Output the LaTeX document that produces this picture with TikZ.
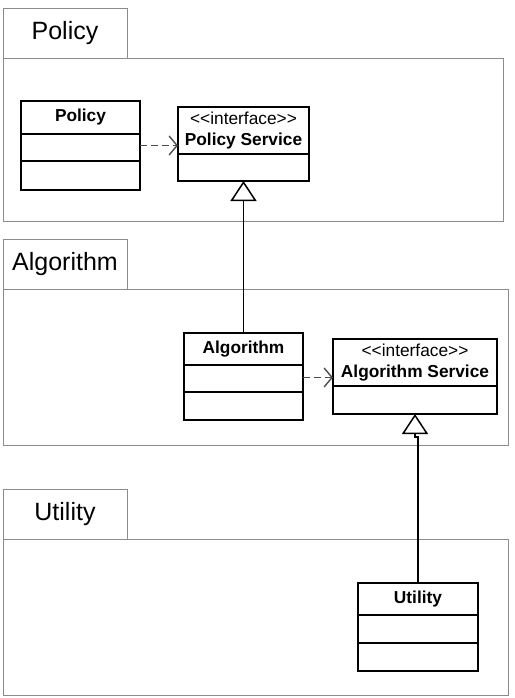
\documentclass[tikz,border=0pt]{standalone}
\usepackage{fontspec}
\setmainfont{Liberation Sans}
\usetikzlibrary{arrows.meta, positioning}
\newcommand{\stereo}[1]{<\kern0pt<#1>\kern0pt>}
\tikzset{
    pkgtab/.style={draw=black!45, line width=0.9pt, inner sep=0pt, outer sep=0pt, minimum width=124pt, minimum height=50pt, font=\fontsize{25}{30}\selectfont},
    pkgbody/.style={draw=black!45, line width=0.9pt, inner sep=0pt, outer sep=0pt, anchor=north west},
    classhead/.style={draw, line width=1.5pt, inner sep=0pt, outer sep=0pt, anchor=north, align=center, font=\fontsize{17.3}{21}\selectfont},
    classpart/.style={draw, line width=1.5pt, inner sep=0pt, outer sep=0pt, anchor=north},
    extends/.style={line width=1.5pt, -{Triangle[open, length=20pt, width=26pt]}},
    depend/.style={black!70, line width=1.4pt, dash pattern=on 7pt off 4pt, -{Straight Barb[length=8pt, width=19pt]}}
}
\begin{document}
\begin{tikzpicture}[x=1pt, y=-1pt]
    \useasboundingbox (0,0) rectangle (514,698);
    \node[pkgtab] (policytab) at (65,33) {Policy};
    \node[pkgbody, minimum width=500pt, minimum height=163pt] (policypkg) at (policytab.south west) {};
    \node[pkgtab] (algotab) at (65,264) {Algorithm};
    \node[pkgbody, minimum width=505pt, minimum height=156pt] (algopkg) at (algotab.south west) {};
    \node[pkgtab] (utiltab) at (65,514) {Utility};
    \node[pkgbody, minimum width=505pt, minimum height=156pt] (utilpkg) at (utiltab.south west) {};
    \node[classhead, minimum width=119pt, minimum height=33pt] (policy) at (80.5,101) {\bfseries Policy};
    \node[classpart, minimum width=119pt, minimum height=27pt] (policyattr) at (policy.south) {};
    \node[classpart, minimum width=119pt, minimum height=29pt] (policyops) at (policyattr.south) {};
    \node[classhead, minimum width=131pt, minimum height=47pt] (policysvc) at (243.5,107) {\stereo{interface}\\\bfseries Policy Service};
    \node[classpart, minimum width=131pt, minimum height=27pt] (policysvcops) at (policysvc.south) {};
    \node[classhead, minimum width=119pt, minimum height=32pt] (algo) at (243.5,333) {\bfseries Algorithm};
    \node[classpart, minimum width=119pt, minimum height=27pt] (algoattr) at (algo.south) {};
    \node[classpart, minimum width=119pt, minimum height=28pt] (algoops) at (algoattr.south) {};
    \node[classhead, minimum width=164pt, minimum height=47pt] (algosvc) at (415,339) {\stereo{interface}\\\bfseries Algorithm Service};
    \node[classpart, minimum width=164pt, minimum height=28pt] (algosvcops) at (algosvc.south) {};
    \node[classhead, minimum width=120pt, minimum height=32pt] (util) at (418,583) {\bfseries Utility};
    \node[classpart, minimum width=120pt, minimum height=28pt] (utilattr) at (util.south) {};
    \node[classpart, minimum width=120pt, minimum height=28pt] (utilops) at (utilattr.south) {};
    \draw[depend] ([yshift=2pt]policyattr.east) -- ([yshift=2pt]policyattr.east -| policysvc.west);
    \draw[depend] ([yshift=1pt]algoattr.east) -- ([yshift=1pt]algoattr.east -| algosvc.west);
    \draw[extends] (algo.north) -- (policysvcops.south);
    \draw[extends] (util.north) |- ([yshift=-23pt]algosvcops.south) -- (algosvcops.south);
\end{tikzpicture}
\end{document}
